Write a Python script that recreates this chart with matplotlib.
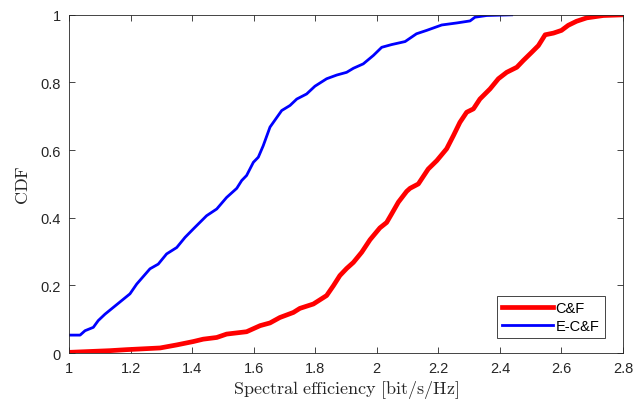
import numpy as np
import matplotlib.pyplot as plt
from matplotlib.ticker import FuncFormatter

# C&F curve (red)
cf_x = [1.0, 1.133, 1.187, 1.296, 1.35, 1.404, 1.436, 1.48, 1.512, 1.577, 1.621,
        1.653, 1.685, 1.729, 1.75, 1.794, 1.837, 1.859, 1.88, 1.902, 1.924, 1.951,
        1.978, 2.01, 2.032, 2.048, 2.07, 2.097, 2.108, 2.135, 2.167, 2.195, 2.227,
        2.249, 2.27, 2.292, 2.314, 2.335, 2.368, 2.395, 2.422, 2.455, 2.476, 2.503,
        2.525, 2.547, 2.574, 2.6, 2.622, 2.649, 2.682, 2.736, 2.8]
cf_y = [0.002, 0.007, 0.01, 0.015, 0.024, 0.034, 0.041, 0.046, 0.056, 0.063, 0.081,
        0.089, 0.105, 0.12, 0.132, 0.145, 0.17, 0.199, 0.229, 0.25, 0.268, 0.298,
        0.335, 0.37, 0.386, 0.411, 0.446, 0.478, 0.487, 0.5, 0.544, 0.569, 0.604,
        0.643, 0.682, 0.712, 0.722, 0.751, 0.781, 0.811, 0.83, 0.845, 0.865, 0.889,
        0.909, 0.941, 0.946, 0.954, 0.969, 0.981, 0.991, 0.998, 1.0]

# E-C&F curve (blue)
ecf_x = [1.0, 1.036, 1.052, 1.079, 1.095, 1.117, 1.144, 1.171, 1.198, 1.22, 1.263,
         1.29, 1.317, 1.35, 1.377, 1.404, 1.447, 1.48, 1.512, 1.545, 1.561, 1.577,
         1.599, 1.615, 1.631, 1.653, 1.691, 1.718, 1.74, 1.772, 1.799, 1.837, 1.87,
         1.902, 1.924, 1.956, 1.989, 2.016, 2.048, 2.092, 2.129, 2.162, 2.211, 2.26,
         2.303, 2.319, 2.357, 2.438]
ecf_y = [0.053, 0.053, 0.066, 0.076, 0.096, 0.115, 0.135, 0.155, 0.175, 0.204, 0.249,
         0.263, 0.293, 0.312, 0.342, 0.367, 0.406, 0.426, 0.46, 0.487, 0.51, 0.525,
         0.564, 0.579, 0.613, 0.668, 0.717, 0.732, 0.751, 0.766, 0.789, 0.811, 0.822,
         0.83, 0.842, 0.855, 0.88, 0.904, 0.912, 0.921, 0.944, 0.954, 0.97, 0.976,
         0.982, 0.993, 0.998, 1.0]

plt.rcParams['mathtext.fontset'] = 'cm'

fig = plt.figure(figsize=(6.39, 4.06), dpi=100)
ax = fig.add_axes([0.108, 0.128, 0.867, 0.833])

ax.plot(cf_x, cf_y, color='#ff0000', linewidth=3.4, label='C&F')
ax.plot(ecf_x, ecf_y, color='#0000ff', linewidth=2.0, label='E-C&F')

ax.set_xlim(1, 2.8)
ax.set_ylim(0, 1)
ax.set_xticks(np.arange(1, 2.81, 0.2))
ax.set_yticks(np.arange(0, 1.01, 0.2))
ax.xaxis.set_major_formatter(FuncFormatter(lambda v, p: f'{v:g}'))
ax.yaxis.set_major_formatter(FuncFormatter(lambda v, p: f'{v:g}'))

for lbl in ax.get_xticklabels() + ax.get_yticklabels():
    lbl.set_fontfamily('Liberation Sans')
ax.tick_params(direction='in', top=True, right=True, labelsize=10.5,
               colors='#262626', length=4, width=0.6, pad=6)
for s in ax.spines.values():
    s.set_color('#262626')
    s.set_linewidth(0.6)

ax.set_xlabel(r'$\mathrm{Spectral\ efficiency\ [bit/s/Hz]}$', fontsize=13, color='#262626', labelpad=2)
ax.set_ylabel(r'$\mathrm{CDF}$', fontsize=13, color='#262626', labelpad=6)

leg = ax.legend(loc='lower right', bbox_to_anchor=(0.98, 0.022),
                handlelength=3.5, borderpad=0.35, labelspacing=0.3,
                handletextpad=0.15, fancybox=False, framealpha=1,
                prop={'family': 'Liberation Sans', 'size': 10.5})
leg.get_frame().set_edgecolor('#262626')
leg.get_frame().set_linewidth(0.6)

fig.savefig('out.png', dpi=100)
